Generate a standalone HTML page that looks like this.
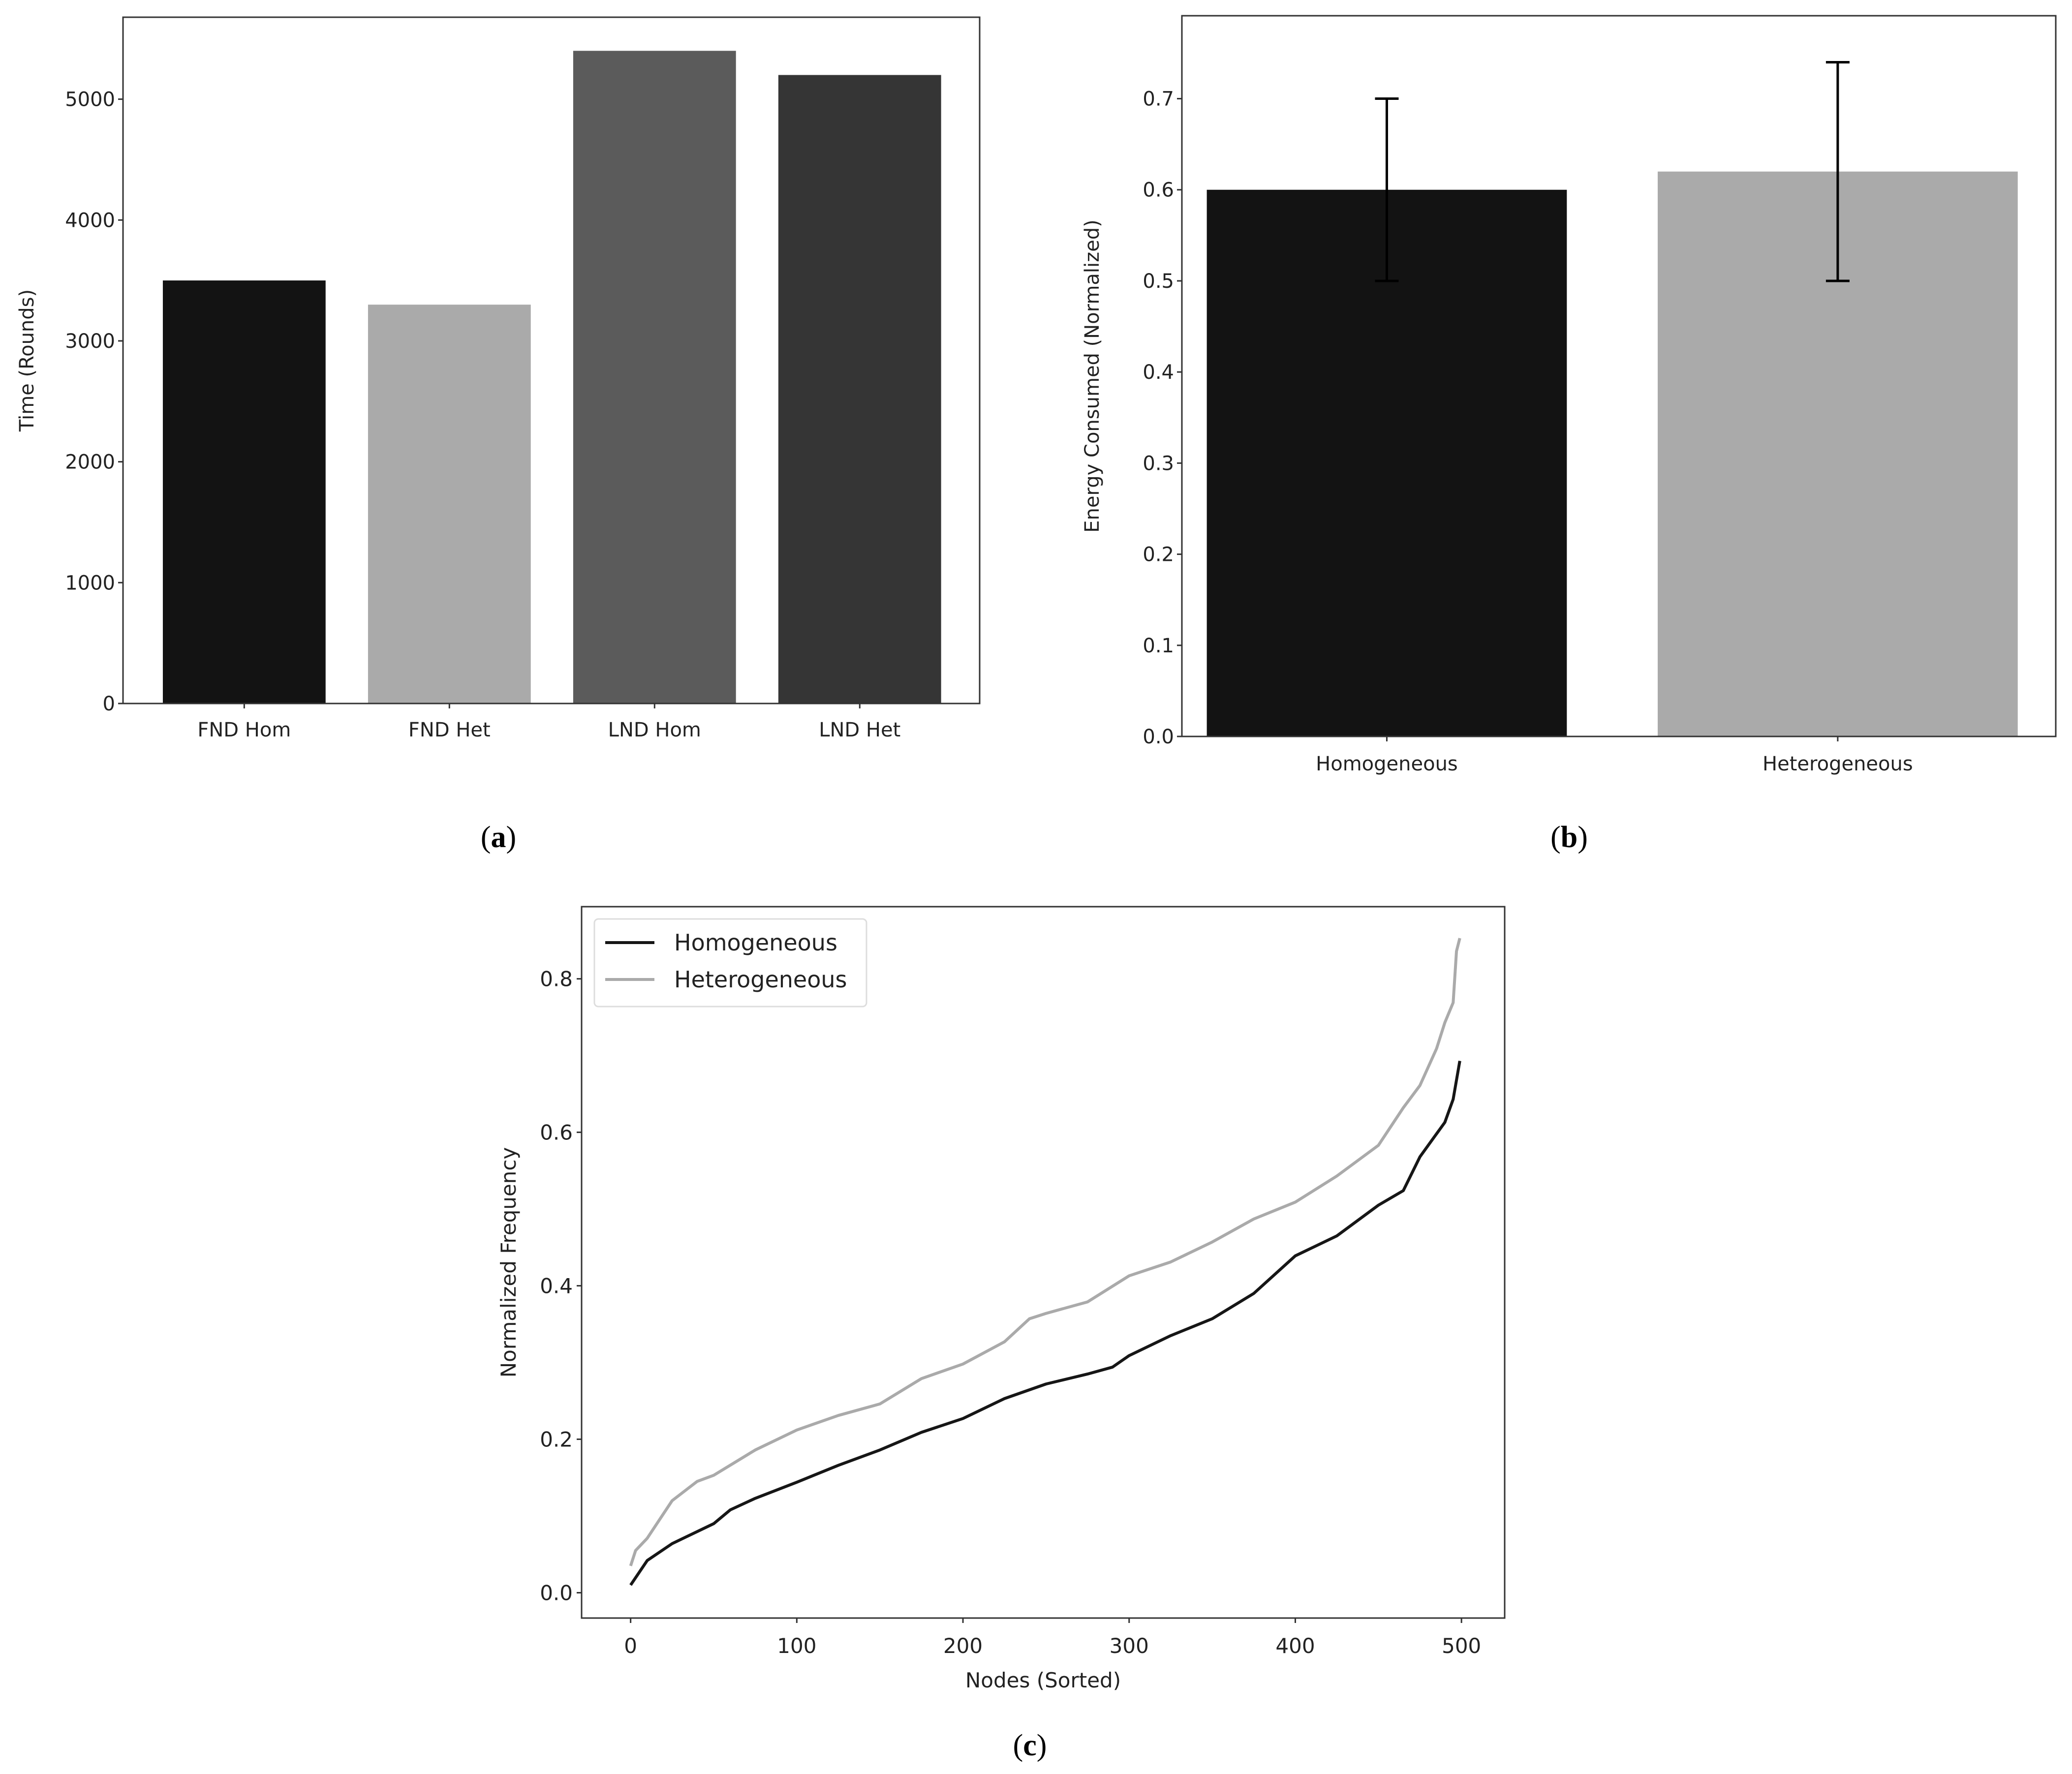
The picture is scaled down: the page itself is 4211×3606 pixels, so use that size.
<!DOCTYPE html>
<html><head><meta charset="utf-8"><style>
html,body{margin:0;padding:0;background:#fff;}
svg{display:block;}
text{font-family:"DejaVu Sans","Liberation Sans",sans-serif;fill:#222;}
.cap{font-family:"Liberation Serif",serif;fill:#000;font-size:62px;}
</style></head><body>
<svg id="fig" width="4211" height="3606" viewBox="0 0 4211 3606" xmlns="http://www.w3.org/2000/svg">
<g id="ga"></g>
<g id="gb"></g>
<g id="gc"></g>
<text class="cap" x="1013" y="1722" text-anchor="middle">(<tspan font-weight="bold">a</tspan>)</text>
<text class="cap" x="3189" y="1722" text-anchor="middle">(<tspan font-weight="bold">b</tspan>)</text>
<text class="cap" x="2093" y="3568" text-anchor="middle">(<tspan font-weight="bold">c</tspan>)</text>
</svg>
<script>
// Chart A data
const aCategories = ["FND Hom","FND Het","LND Hom","LND Het"];
const aValues = [3500, 3300, 5400, 5200];
const aTicks = [0,1000,2000,3000,4000,5000];
// Chart B data
const bCategories = ["Homogeneous","Heterogeneous"];
const bValues = [0.60, 0.62];
const bErrLow = [0.50, 0.50];
const bErrHigh = [0.70, 0.74];
const bTicks = [0.0,0.1,0.2,0.3,0.4,0.5,0.6,0.7];
// Chart C data
const cHomX = [0,10,25,50,60,75,100,125,150,175,200,225,250,275,290,300,325,350,375,400,425,450,465,475,490,495,499];
const cHomY = [0.01,0.042,0.064,0.09,0.108,0.123,0.144,0.166,0.186,0.209,0.227,0.253,0.272,0.285,0.294,0.309,0.335,0.357,0.39,0.439,0.465,0.505,0.524,0.568,0.613,0.643,0.693];
const cHetX = [0,3,10,25,40,50,75,100,125,150,175,200,225,240,250,275,300,325,350,375,400,425,450,465,475,485,490,495,497,499];
const cHetY = [0.035,0.055,0.071,0.12,0.145,0.153,0.186,0.212,0.231,0.246,0.279,0.298,0.327,0.357,0.364,0.379,0.413,0.431,0.457,0.487,0.509,0.543,0.583,0.632,0.661,0.709,0.743,0.769,0.836,0.853];
const cXTicks = [0,100,200,300,400,500];
const cYTicks = [0.0,0.2,0.4,0.6,0.8];

const NS="http://www.w3.org/2000/svg";
function mk(parent, tag, attrs, txt){
  const e=document.createElementNS(NS,tag);
  for(const k in attrs) e.setAttribute(k,attrs[k]);
  if(txt!==undefined) e.textContent=txt;
  parent.appendChild(e); return e;
}

// ---- Chart A ----
(function(){
  const g=document.getElementById('ga');
  const L=250,R=1991,T=35,B=1430, ymax=5678;
  const y=v=>B-(v/ymax)*(B-T);
  const xc=i=>L+ (R-L)*(0.1415+i*0.2395);
  const bw=(R-L)*0.19;
  const colors=["#131313","#aaaaaa","#5b5b5b","#353535"];
  aValues.forEach((v,i)=>{
    const r=mk(g,'rect',{x:xc(i)-bw/2,y:y(v),width:bw,height:B-y(v),fill:colors[i]});
    
    
    const t=mk(g,'text',{x:xc(i),y:1497,'text-anchor':'middle','font-size':40},aCategories[i]);
    
    
    mk(g,'line',{x1:xc(i),x2:xc(i),y1:B,y2:B+10,stroke:'#333','stroke-width':3});
  });
  aTicks.forEach(v=>{
    mk(g,'line',{x1:L-10,x2:L,y1:y(v),y2:y(v),stroke:'#333','stroke-width':3});
    const t=mk(g,'text',{x:L-16,y:y(v)+14,'text-anchor':'end','font-size':40},String(v));
    
    
  });
  const f=mk(g,'rect',{x:L,y:T,width:R-L,height:B-T,fill:'none',stroke:'#333','stroke-width':3});
  
  
  const yt=mk(g,'text',{x:0,y:0,'text-anchor':'middle','font-size':40,transform:'translate(68,'+((T+B)/2)+') rotate(-90)'},'Time (Rounds)');
  
  
})();

// ---- Chart B ----
(function(){
  const g=document.getElementById('gb');
  const L=2402,R=4178,T=32,B=1497, ymax=0.791;
  const y=v=>B-(v/ymax)*(B-T);
  const xc=i=>L+(R-L)*(0.2345+i*0.516);
  const bw=(R-L)*0.412;
  const colors=["#131313","#aaaaaa"];
  bValues.forEach((v,i)=>{
    const r=mk(g,'rect',{x:xc(i)-bw/2,y:y(v),width:bw,height:B-y(v),fill:colors[i]});
    
    
    const e=mk(g,'path',{d:`M${xc(i)} ${y(bErrLow[i])}V${y(bErrHigh[i])}M${xc(i)-24} ${y(bErrLow[i])}H${xc(i)+24}M${xc(i)-24} ${y(bErrHigh[i])}H${xc(i)+24}`,stroke:'#000','stroke-width':5,fill:'none'});
    
    
    mk(g,'line',{x1:xc(i),x2:xc(i),y1:B,y2:B+10,stroke:'#333','stroke-width':3});
    const t=mk(g,'text',{x:xc(i),y:1566,'text-anchor':'middle','font-size':40},bCategories[i]);
    
    
  });
  bTicks.forEach(v=>{
    mk(g,'line',{x1:L-10,x2:L,y1:y(v),y2:y(v),stroke:'#333','stroke-width':3});
    const t=mk(g,'text',{x:L-16,y:y(v)+14,'text-anchor':'end','font-size':40},v.toFixed(1));
    
    
  });
  const f=mk(g,'rect',{x:L,y:T,width:R-L,height:B-T,fill:'none',stroke:'#333','stroke-width':3});
  
  
  const yt=mk(g,'text',{x:0,y:0,'text-anchor':'middle','font-size':40,transform:'translate(2233,'+((T+B)/2)+') rotate(-90)'},'Energy Consumed (Normalized)');
  
  
})();

// ---- Chart C ----
(function(){
  const g=document.getElementById('gc');
  const L=1182,R=3058,T=1843,B=3289;
  const xmin=-29.5,xmax=526,ymin=-0.033,ymax=0.894;
  const x=v=>L+(v-xmin)/(xmax-xmin)*(R-L);
  const y=v=>B-(v-ymin)/(ymax-ymin)*(B-T);
  function line(xs,ys,col,name){
    const p=mk(g,'polyline',{points:xs.map((v,i)=>x(v)+','+y(ys[i])).join(' '),fill:'none',stroke:col,'stroke-width':6,'stroke-linejoin':'round'});
    
    
  }
  line(cHetX,cHetY,'#aaaaaa','line-heterogeneous');
  line(cHomX,cHomY,'#161616','line-homogeneous');
  cXTicks.forEach(v=>{
    mk(g,'line',{x1:x(v),x2:x(v),y1:B,y2:B+10,stroke:'#333','stroke-width':3});
    const t=mk(g,'text',{x:x(v),y:3360,'text-anchor':'middle','font-size':42},String(v));
    
    
  });
  cYTicks.forEach(v=>{
    mk(g,'line',{x1:L-10,x2:L,y1:y(v),y2:y(v),stroke:'#333','stroke-width':3});
    const t=mk(g,'text',{x:L-18,y:y(v)+15,'text-anchor':'end','font-size':42},v.toFixed(1));
    
    
  });
  const f=mk(g,'rect',{x:L,y:T,width:R-L,height:B-T,fill:'none',stroke:'#333','stroke-width':3});
  
  
  const xt=mk(g,'text',{x:(L+R)/2,y:3430,'text-anchor':'middle','font-size':42},'Nodes (Sorted)');
  
  
  const yt=mk(g,'text',{x:0,y:0,'text-anchor':'middle','font-size':42,transform:'translate(1048,'+((T+B)/2)+') rotate(-90)'},'Normalized Frequency');
  
  
  const lg=mk(g,'g',{});
  
  
  mk(lg,'rect',{x:1208,y:1868,width:553,height:178,rx:8,fill:'#fff',stroke:'#ddd','stroke-width':3});
  mk(lg,'line',{x1:1230,x2:1330,y1:1916,y2:1916,stroke:'#161616','stroke-width':6});
  mk(lg,'line',{x1:1230,x2:1330,y1:1991,y2:1991,stroke:'#aaaaaa','stroke-width':6});
  const l1=mk(lg,'text',{x:1370,y:1932,'font-size':46},'Homogeneous');
  
  
  const l2=mk(lg,'text',{x:1370,y:2007,'font-size':46},'Heterogeneous');
  
  
})();
</script>
</body></html>
